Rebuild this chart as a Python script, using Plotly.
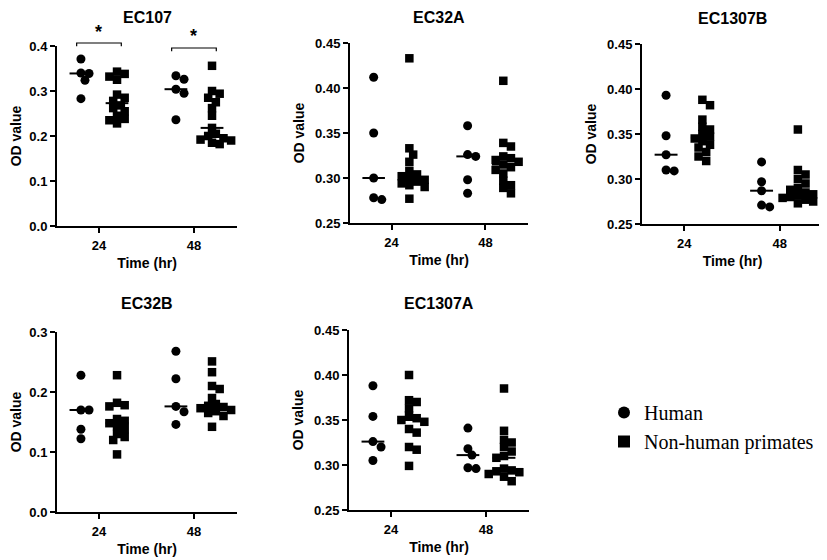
import numpy as np
import plotly.graph_objects as go

# ---------------- data ----------------
time_labels = ["24", "48"]
panel_titles = ["EC107", "EC32A", "EC1307B", "EC32B", "EC1307A"]
group_names = ["Human", "Non-human primates"]

ec107_human_24 = [0.371, 0.340, 0.339, 0.324, 0.283]
ec107_nhp_24 = [0.343, 0.338, 0.332, 0.325, 0.292, 0.285, 0.278, 0.268, 0.262, 0.255, 0.245, 0.238, 0.235, 0.228]
ec107_human_48 = [0.334, 0.326, 0.304, 0.295, 0.236]
ec107_nhp_48 = [0.356, 0.300, 0.294, 0.285, 0.275, 0.262, 0.245, 0.218, 0.205, 0.200, 0.195, 0.192, 0.190, 0.185, 0.182]

ec32a_human_24 = [0.412, 0.350, 0.300, 0.278, 0.276]
ec32a_nhp_24 = [0.433, 0.333, 0.326, 0.318, 0.308, 0.304, 0.302, 0.300, 0.298, 0.296, 0.294, 0.292, 0.290, 0.277]
ec32a_human_48 = [0.358, 0.326, 0.324, 0.298, 0.283]
ec32a_nhp_48 = [0.408, 0.339, 0.335, 0.324, 0.322, 0.320, 0.318, 0.315, 0.312, 0.309, 0.305, 0.297, 0.292, 0.289, 0.283]

ec1307b_human_24 = [0.393, 0.348, 0.327, 0.310, 0.309]
ec1307b_nhp_24 = [0.388, 0.382, 0.366, 0.358, 0.355, 0.350, 0.347, 0.345, 0.342, 0.338, 0.335, 0.330, 0.325, 0.320]
ec1307b_human_48 = [0.319, 0.297, 0.287, 0.271, 0.269]
ec1307b_nhp_48 = [0.355, 0.310, 0.305, 0.300, 0.295, 0.290, 0.288, 0.285, 0.283, 0.282, 0.280, 0.279, 0.277, 0.275, 0.273]

ec32b_human_24 = [0.228, 0.170, 0.170, 0.138, 0.122]
ec32b_nhp_24 = [0.228, 0.182, 0.178, 0.176, 0.155, 0.152, 0.148, 0.143, 0.138, 0.130, 0.125, 0.120, 0.096]
ec32b_human_48 = [0.268, 0.222, 0.176, 0.167, 0.146]
ec32b_nhp_48 = [0.251, 0.233, 0.210, 0.205, 0.190, 0.180, 0.177, 0.175, 0.173, 0.170, 0.168, 0.165, 0.160, 0.142]

ec1307a_human_24 = [0.388, 0.354, 0.326, 0.320, 0.305]
ec1307a_nhp_24 = [0.400, 0.372, 0.370, 0.363, 0.355, 0.352, 0.350, 0.348, 0.340, 0.336, 0.320, 0.317, 0.299]
ec1307a_human_48 = [0.341, 0.318, 0.311, 0.297, 0.296]
ec1307a_nhp_48 = [0.385, 0.338, 0.328, 0.325, 0.320, 0.315, 0.310, 0.308, 0.296, 0.294, 0.293, 0.292, 0.290, 0.287, 0.282]

panel_data = [
    [(ec107_human_24, ec107_nhp_24), (ec107_human_48, ec107_nhp_48)],
    [(ec32a_human_24, ec32a_nhp_24), (ec32a_human_48, ec32a_nhp_48)],
    [(ec1307b_human_24, ec1307b_nhp_24), (ec1307b_human_48, ec1307b_nhp_48)],
    [(ec32b_human_24, ec32b_nhp_24), (ec32b_human_48, ec32b_nhp_48)],
    [(ec1307a_human_24, ec1307a_nhp_24), (ec1307a_human_48, ec1307a_nhp_48)],
]
y_ranges = [(0.0, 0.4), (0.25, 0.45), (0.25, 0.45), (0.0, 0.3), (0.25, 0.45)]
y_dticks = [0.1, 0.05, 0.05, 0.1, 0.05]
y_formats = [".1f", ".2f", ".2f", ".1f", ".2f"]

# ---------------- layout geometry ----------------
W, H = 827, 560
OFF = 8  # page body margin compensation
# (x_left_px, x_right_px, y_bottom_px, y_top_px) of each plot area (screen px)
geom = [(57, 237, 226, 46), (350, 528, 223, 43), (642, 823, 224, 44),
        (57, 237, 512, 332), (349, 529, 510, 330)]
XR = (0.558, 2.453)
GROUP_OFF = 0.19
MED_HALF = 0.12
FONT = "Liberation Sans"
SERIF = "Liberation Serif"


def px2x(px):
    return (px - OFF) / W


def px2y(py):
    return (H - (py - OFF)) / H


def swarm(vals, px_per_val, size, px_per_x):
    vals = np.asarray(vals, dtype=float)
    order = np.argsort(-vals, kind="stable")
    placed = []
    offs = np.zeros(len(vals))
    step = size * 0.45
    mind = size * 0.8
    for i in order:
        y = vals[i] * px_per_val
        chosen = None
        for k in range(0, 60):
            cands = [0.0] if k == 0 else [k * step, -k * step]
            for c in cands:
                if all((c - px) ** 2 + (y - py) ** 2 >= mind ** 2 for px, py in placed):
                    chosen = c
                    break
            if chosen is not None:
                break
        placed.append((chosen, y))
        offs[i] = chosen / px_per_x
    return offs


fig = go.Figure()
layout = {}
for p in range(5):
    x0, x1, yb, yt = geom[p]
    sfx = "" if p == 0 else str(p + 1)
    xa, ya = "x" + sfx, "y" + sfx
    r0, r1 = y_ranges[p]
    px_per_val = (yb - yt) / (r1 - r0)
    px_per_x = (x1 - x0) / (XR[1] - XR[0])
    for t in range(2):
        for g in range(2):
            vals = panel_data[p][t][g]
            center = (t + 1) + (-GROUP_OFF if g == 0 else GROUP_OFF)
            size = 9 if g == 0 else 8.5
            offs = swarm(vals, px_per_val, size, px_per_x)
            fig.add_trace(go.Scatter(
                x=center + offs, y=vals, mode="markers", xaxis=xa, yaxis=ya,
                marker=dict(symbol="circle" if g == 0 else "square", size=size,
                            color="black", line=dict(width=0)),
                showlegend=False, cliponaxis=False, hoverinfo="y"))
            med = float(np.median(vals))
            fig.add_trace(go.Scatter(
                x=[center - MED_HALF, center + MED_HALF], y=[med, med], mode="lines",
                xaxis=xa, yaxis=ya, line=dict(color="black", width=2),
                showlegend=False, hoverinfo="skip"))
    layout["xaxis" + sfx] = dict(
        domain=[px2x(x0), min(px2x(x1), 1.0)], anchor=ya, range=list(XR), tickvals=[1, 2],
        ticktext=time_labels, ticks="outside", ticklen=5, tickwidth=2, tickcolor="black",
        showline=True, linewidth=2, linecolor="black", showgrid=False, zeroline=False,
        ticklabelstandoff=1, automargin=False,
        tickfont=dict(family=FONT, size=13, color="black", weight="bold"),
        title=dict(text="Time (hr)", standoff=7,
                   font=dict(family=FONT, size=14, color="black", weight="bold")),
        fixedrange=True)
    layout["yaxis" + sfx] = dict(
        domain=[px2y(yb), px2y(yt)], anchor=xa, range=[r0, r1], dtick=y_dticks[p],
        tick0=r0, tickformat=y_formats[p], ticks="outside", ticklen=5, tickwidth=2,
        tickcolor="black", showline=True, linewidth=2, linecolor="black", showgrid=False,
        zeroline=False, automargin=False,
        tickfont=dict(family=FONT, size=13, color="black", weight="bold"),
        title=dict(text="OD value", standoff=7,
                   font=dict(family=FONT, size=14, color="black", weight="bold")),
        fixedrange=True)

# panel titles
annotations = []
title_y_px = [17, 17, 18, 303, 303]
for p in range(5):
    x0, x1, yb, yt = geom[p]
    annotations.append(dict(
        text=panel_titles[p], xref="paper", yref="paper", x=px2x((x0 + x1) / 2),
        y=px2y(title_y_px[p]), xanchor="center", yanchor="middle", showarrow=False,
        font=dict(family=FONT, size=16, color="black", weight="bold")))

# significance brackets for EC107 (in axis-domain coordinates)
shapes = []
r0, r1 = y_ranges[0]


def xdom(v):
    return (v - XR[0]) / (XR[1] - XR[0])


def ydom(v):
    return (v - r0) / (r1 - r0)


for t, (ylev, ast_y) in enumerate([(0.4067, 0.432), (0.3956, 0.422)]):
    c = t + 1
    xl, xr = c - 0.235, c + 0.235
    drop = 0.007
    shapes.append(dict(type="path", xref="x domain", yref="y domain",
                       path=f"M {xdom(xl)},{ydom(ylev - drop)} L {xdom(xl)},{ydom(ylev)} "
                            f"L {xdom(xr)},{ydom(ylev)} L {xdom(xr)},{ydom(ylev - drop)}",
                       line=dict(color="black", width=1.2)))
    annotations.append(dict(text="*", xref="x domain", yref="y domain", x=xdom(c),
                            y=ydom(ast_y), showarrow=False,
                            xanchor="center", yanchor="middle",
                            font=dict(family=FONT, size=18, color="black", weight="bold")))

# legend-only traces
for g in range(2):
    fig.add_trace(go.Scatter(
        x=[None], y=[None], mode="markers", name=group_names[g],
        marker=dict(symbol="circle" if g == 0 else "square", size=12, color="black"),
        showlegend=True))

fig.update_layout(
    width=W, height=H, margin=dict(l=0, r=0, t=0, b=0, autoexpand=False),
    paper_bgcolor="white", plot_bgcolor="white",
    annotations=annotations, shapes=shapes,
    legend=dict(x=px2x(604), y=px2y(393), xanchor="left", yanchor="top",
                font=dict(family=SERIF, size=20, color="black"),
                bgcolor="rgba(0,0,0,0)", itemclick=False, tracegroupgap=0),
    **layout)

fig.write_html("out.html")
